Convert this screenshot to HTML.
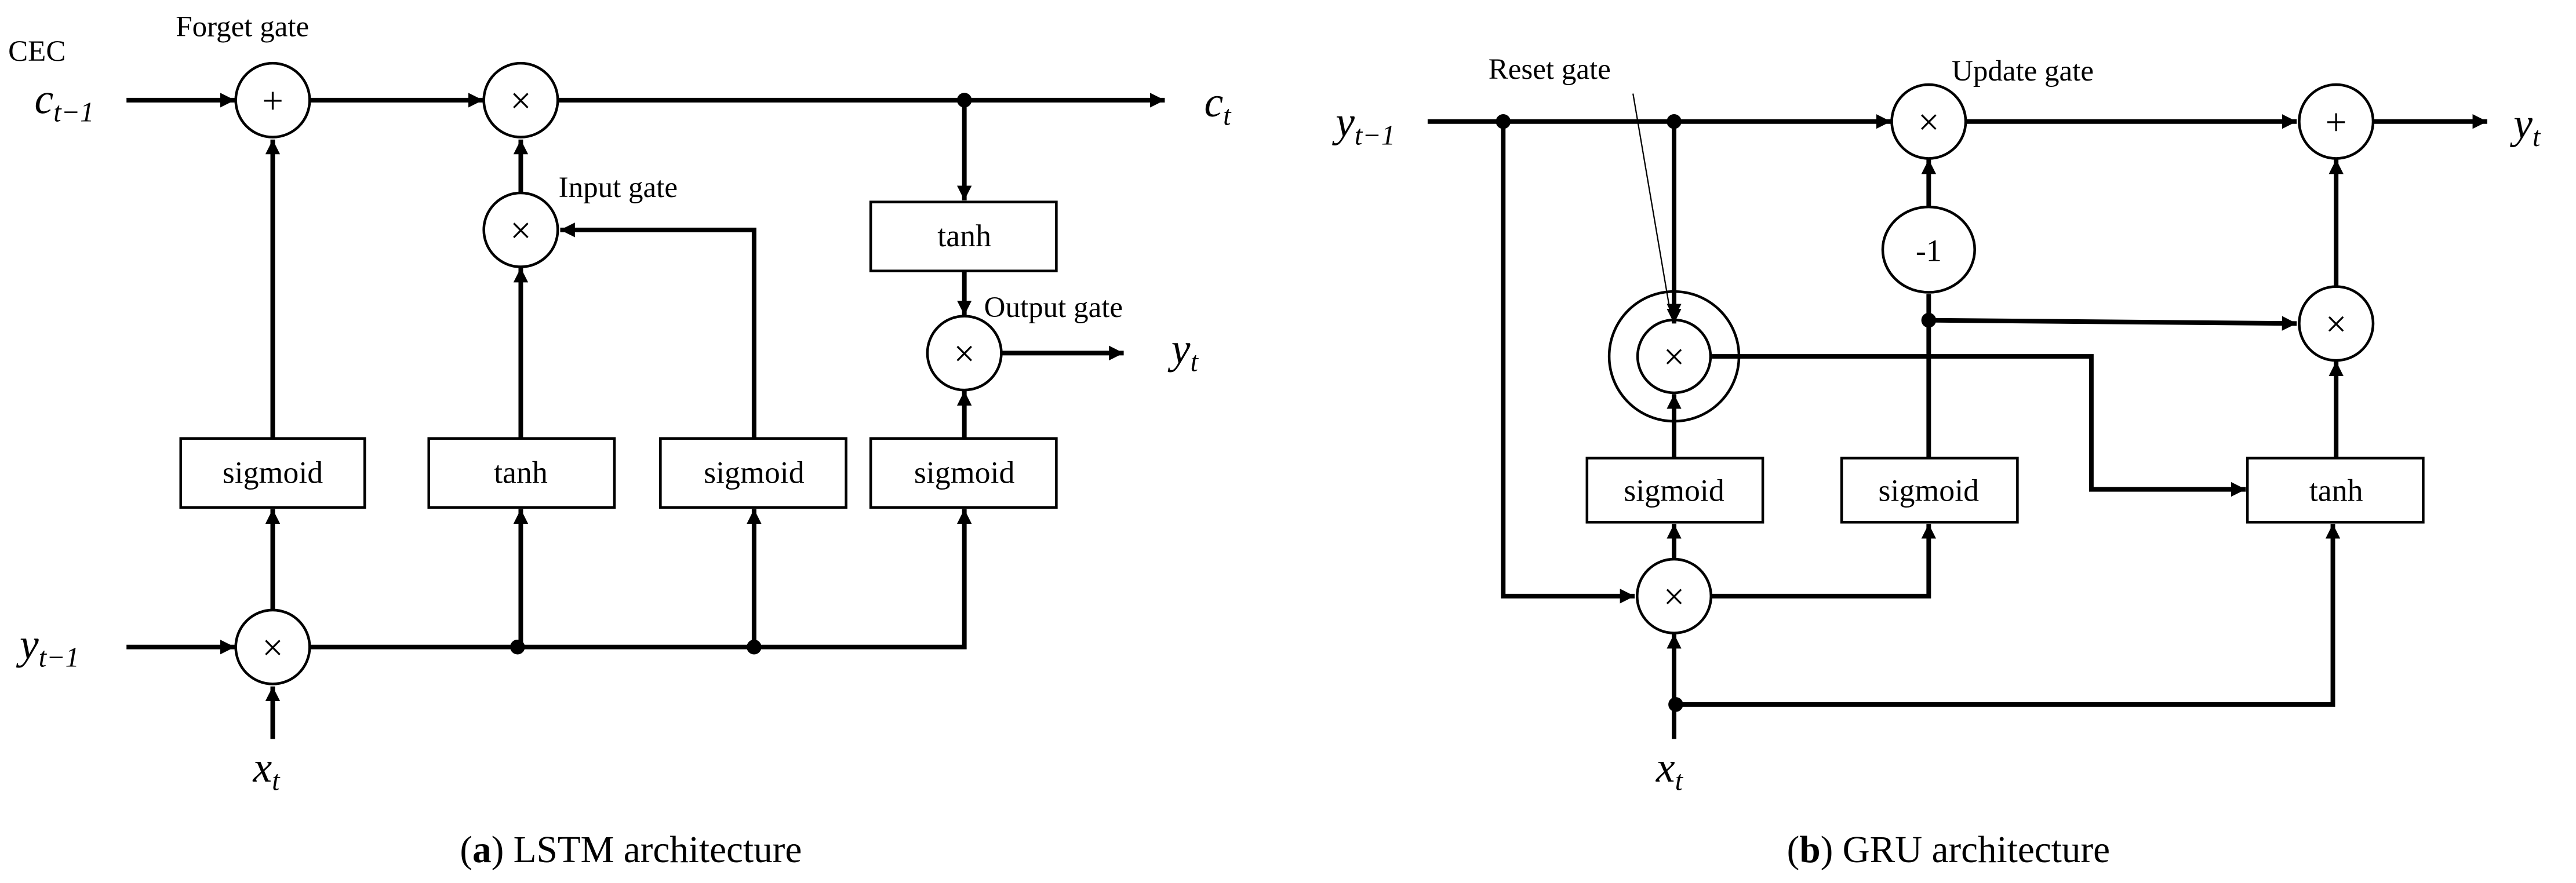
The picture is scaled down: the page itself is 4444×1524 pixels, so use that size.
<!DOCTYPE html>
<html><head><meta charset="utf-8"><style>
html,body{margin:0;padding:0;background:#fff}
svg{display:block}
text{font-family:"Liberation Serif",serif;fill:#000}
.m{font-style:italic;font-size:26px}
.s{font-size:17px;font-style:italic}
.l{font-size:18px}
.b{font-size:19px}
.c{font-size:23px}
</style></head><body>
<svg width="4444" height="1524" viewBox="0 0 1568 537.7" preserveAspectRatio="none" xmlns="http://www.w3.org/2000/svg">
<defs>
<marker id="a" viewBox="0 0 10 10" refX="10" refY="5" markerWidth="3.2" markerHeight="3.2" orient="auto" markerUnits="strokeWidth"><path d="M0,0L10,5L0,10z" fill="#000"/></marker>
</defs>
<g fill="#fff" stroke="#000" stroke-width="1.6">
<circle cx="1019" cy="217" r="39.5" fill="none"/>
</g>
<g fill="none" stroke="#000" stroke-width="2.8">
<!-- LSTM -->
<path d="M77,61H143" marker-end="url(#a)"/>
<path d="M189,61H294" marker-end="url(#a)"/>
<path d="M340,61H709" marker-end="url(#a)"/>
<path d="M587,61V122" marker-end="url(#a)"/>
<path d="M587,165V192" marker-end="url(#a)"/>
<path d="M609,215H684" marker-end="url(#a)"/>
<path d="M587,267V238" marker-end="url(#a)"/>
<path d="M166,267V85" marker-end="url(#a)"/>
<path d="M317,267V163" marker-end="url(#a)"/>
<path d="M317,118V85" marker-end="url(#a)"/>
<path d="M459,267V140H341" marker-end="url(#a)"/>
<path d="M77,394H143" marker-end="url(#a)"/>
<path d="M189,394H587V310" marker-end="url(#a)"/>
<path d="M317,394V310" marker-end="url(#a)"/>
<path d="M459,394V310" marker-end="url(#a)"/>
<path d="M166,372V310" marker-end="url(#a)"/>
<path d="M166,450V418" marker-end="url(#a)"/>
<!-- GRU -->
<path d="M869,74H1151" marker-end="url(#a)"/>
<path d="M1197,74H1398" marker-end="url(#a)"/>
<path d="M1445,74H1514" marker-end="url(#a)"/>
<path d="M1019,74V194" marker-end="url(#a)"/>
<path d="M915,74V363H995" marker-end="url(#a)"/>
<path d="M1019,279V240" marker-end="url(#a)"/>
<path d="M1019,341V319" marker-end="url(#a)"/>
<path d="M1042,363H1174V319" marker-end="url(#a)"/>
<path d="M1174,279V179"/>
<path d="M1174,126V97" marker-end="url(#a)"/>
<path d="M1174,195L1398,197" marker-end="url(#a)"/>
<path d="M1042,217H1273V298H1367" marker-end="url(#a)"/>
<path d="M1422,279V220" marker-end="url(#a)"/>
<path d="M1422,175V97" marker-end="url(#a)"/>
<path d="M1019,450V386" marker-end="url(#a)"/>
<path d="M1020,429H1420V319" marker-end="url(#a)"/>
</g>
<path d="M994,57L1017,192" stroke="#000" stroke-width="0.8" fill="none"/>
<g fill="#fff" stroke="#000" stroke-width="1.6">
<circle cx="166" cy="61" r="22.5"/>
<circle cx="317" cy="61" r="22.5"/>
<circle cx="317" cy="140" r="22.5"/>
<circle cx="587" cy="215" r="22.5"/>
<circle cx="166" cy="394" r="22.5"/>
<rect x="110" y="267" width="112" height="42"/>
<rect x="261" y="267" width="113" height="42"/>
<rect x="402" y="267" width="113" height="42"/>
<rect x="530" y="267" width="113" height="42"/>
<rect x="530" y="123" width="113" height="42"/>
<circle cx="1019" cy="217" r="22.2"/>
<circle cx="1174" cy="74" r="22.5"/>
<circle cx="1422" cy="74" r="22.5"/>
<ellipse cx="1174" cy="152" rx="28" ry="26"/>
<circle cx="1422" cy="197" r="22.5"/>
<circle cx="1019" cy="363" r="22.5"/>
<rect x="966" y="279" width="107" height="39"/>
<rect x="1121" y="279" width="107" height="39"/>
<rect x="1368" y="279" width="107" height="39"/>
</g>
<path d="M1019,194V197" stroke="#000" stroke-width="2.8" marker-end="url(#a)"/>
<g fill="#000">
<circle cx="587" cy="61" r="4.5"/><circle cx="315" cy="394" r="4.5"/><circle cx="459" cy="394" r="4.5"/>
<circle cx="915" cy="74" r="4.5"/><circle cx="1019" cy="74" r="4.5"/><circle cx="1174" cy="195" r="4.5"/><circle cx="1020" cy="429" r="4.5"/>
</g>
<g font-family="Liberation Sans,sans-serif" font-size="23" text-anchor="middle">
<text x="166" y="69">+</text><text x="317" y="69">×</text><text x="317" y="148">×</text><text x="587" y="223">×</text><text x="166" y="402">×</text>
<text x="1019" y="225">×</text><text x="1174" y="82">×</text><text x="1422" y="82">+</text><text x="1422" y="205">×</text><text x="1019" y="371">×</text>
</g>
<g text-anchor="middle" class="b">
<text x="166" y="294">sigmoid</text><text x="317" y="294">tanh</text><text x="459" y="294">sigmoid</text><text x="587" y="294">sigmoid</text><text x="587" y="150">tanh</text>
<text x="1019" y="305">sigmoid</text><text x="1174" y="305">sigmoid</text><text x="1422" y="305">tanh</text><text x="1174" y="159">-1</text>
</g>
<g class="l">
<text x="5" y="37">CEC</text><text x="107" y="22">Forget gate</text><text x="340" y="120">Input gate</text><text x="599" y="193">Output gate</text>
<text x="906" y="48">Reset gate</text><text x="1188" y="49">Update gate</text>
</g>
<text class="m" x="21" y="69">c<tspan class="s" dy="5">t−1</tspan></text>
<text class="m" x="733" y="71">c<tspan class="s" dy="5">t</tspan></text>
<text class="m" x="12" y="401">y<tspan class="s" dy="5">t−1</tspan></text>
<text class="m" x="713" y="221">y<tspan class="s" dy="5">t</tspan></text>
<text class="m" x="154" y="476">x<tspan class="s" dy="5">t</tspan></text>
<text class="m" x="813" y="83">y<tspan class="s" dy="5">t−1</tspan></text>
<text class="m" x="1530" y="84">y<tspan class="s" dy="5">t</tspan></text>
<text class="m" x="1008" y="476">x<tspan class="s" dy="5">t</tspan></text>
<text class="c" x="384" y="525" text-anchor="middle">(<tspan font-weight="bold">a</tspan>) LSTM architecture</text>
<text class="c" x="1186" y="525" text-anchor="middle">(<tspan font-weight="bold">b</tspan>) GRU architecture</text>
</svg>
</body></html>
